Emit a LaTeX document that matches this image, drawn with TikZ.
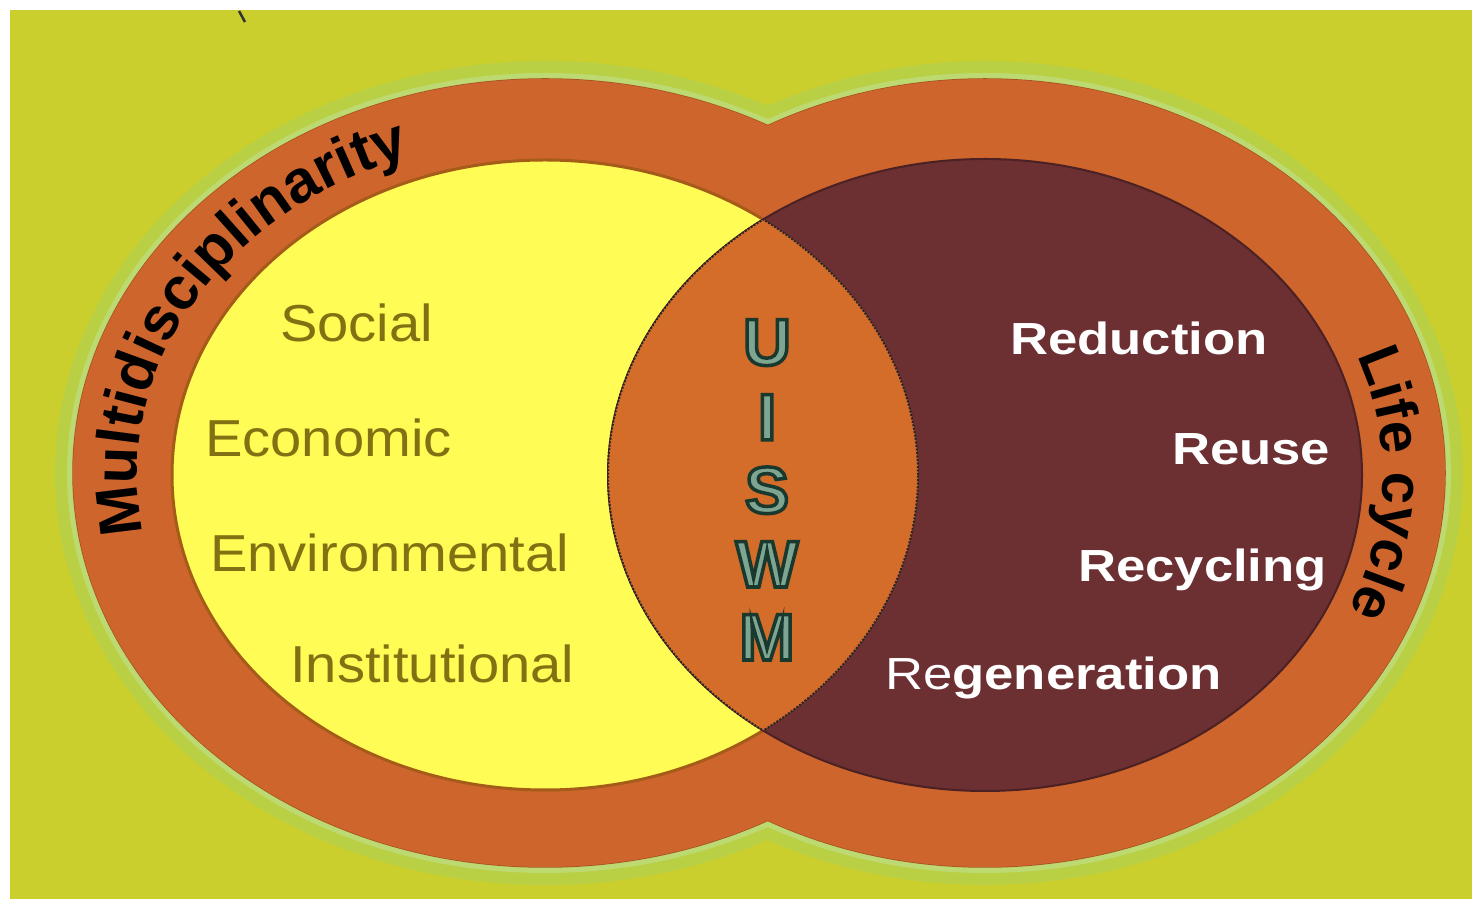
\documentclass[tikz,border=0pt]{standalone}
\usepackage{fontspec}
\setmainfont{Liberation Sans}
\usetikzlibrary{decorations.text,calc}
\definecolor{bgc}{RGB}{203,207,46}
\definecolor{glowc}{RGB}{165,210,95}
\definecolor{ringc}{RGB}{206,101,44}
\definecolor{yelc}{RGB}{255,252,85}
\definecolor{marc}{RGB}{108,47,50}
\definecolor{lensc}{RGB}{212,108,42}
\definecolor{olivec}{RGB}{130,113,18}
\definecolor{edgec}{RGB}{165,92,25}
\definecolor{uswmfill}{RGB}{125,165,145}
\newcommand\outlinedletter[1]{\special{pdf:literal direct 2 Tr 3.5 w 0.10 0.22 0.18 RG}#1\special{pdf:literal direct 0 Tr}}
\begin{document}
\begin{tikzpicture}[x=1pt,y=1pt,
  lefttext/.style={anchor=base west, inner sep=0pt, text=olivec, font=\fontsize{52}{52}\selectfont, xscale=1.08},
  righttext/.style={anchor=base west, inner sep=0pt, text=white, font=\fontsize{45}{45}\selectfont\bfseries, xscale=1.17},
  uswm/.style={anchor=base, inner sep=0pt, text=uswmfill, font=\fontsize{66}{66}\selectfont\bfseries},
  yell/.style={x radius=373, y radius=315},
  marl/.style={x radius=377, y radius=316},
  outl/.style={x radius=472, y radius=394},
  outr/.style={x radius=460, y radius=394},
  lensedge/.style={draw=black!85, line width=2, dash pattern=on 2pt off 1.5pt},
]
\useasboundingbox (0,0) rectangle (1472,899);
\fill[white] (0,0) rectangle (1472,899);
\fill[bgc] (10,0) rectangle (1472,889);
\draw[black!80, line width=2.5] (239,888) -- (245,877);
% centres
\coordinate (cl) at (545,424);
\coordinate (cr) at (985,424);
\coordinate (ol) at (545,426);
\coordinate (or) at (985,426);
% glow and outer ring
\draw[glowc, line width=36, opacity=0.45] (ol) ellipse[outl] (or) ellipse[outr];
\draw[glowc!70!white, line width=12, opacity=0.6] (ol) ellipse[outl] (or) ellipse[outr];
\draw[ringc!80!black, line width=1.5] (ol) ellipse[outl] (or) ellipse[outr];
\fill[ringc] (ol) ellipse[outl] (or) ellipse[outr];
% inner circles
\fill[yelc] (cl) ellipse[yell];
\draw[edgec, line width=3] (cl) ellipse[yell];
\fill[marc] (cr) ellipse[marl];
\draw[marc!70!black, line width=2] (cr) ellipse[marl];
\begin{scope}
  \clip (cl) ellipse[yell];
  \fill[lensc] (cr) ellipse[marl];
  \draw[lensedge] (cr) ellipse[marl];
\end{scope}
\begin{scope}
  \clip (cr) ellipse[marl];
  \draw[lensedge] (cl) ellipse[yell];
\end{scope}
% ring labels
\path[decorate, decoration={text along path, text color=black,
  text={|\fontsize{60}{60}\selectfont\bfseries|Multidisciplinarity}}]
  ($(cl)+(190:408 and 338)$) arc[start angle=190, end angle=90, x radius=408, y radius=338];
\path[decorate, decoration={text along path, text color=black,
  text={|\fontsize{58}{58}\selectfont\bfseries|Life cycle}}]
  ($(cr)+(21:398 and 332)$) arc[start angle=21, end angle=-60, x radius=398, y radius=332];
% left texts
\node[lefttext] (social) at (280,557) {Social};
\node[lefttext] (economic) at (205,442) {Economic};
\node[lefttext] (environmental) at (210,327) {Environmental};
\node[lefttext] (institutional) at (290,216) {Institutional};
% right texts
\node[righttext] (reduction) at (1010,544) {Reduction};
\node[righttext] (reuse) at (1172,434) {Reuse};
\node[righttext] (recycling) at (1078,317) {Recycling};
\node[righttext] (regeneration) at (885,209) {{\mdseries Re}generation};
% UISWM
\node[uswm] (lu) at (767,534) {\outlinedletter{U}};
\node[uswm] (li) at (767,459) {\outlinedletter{I}};
\node[uswm] (ls) at (767,386) {\outlinedletter{S}};
\node[uswm] (lw) at (767,312) {\outlinedletter{W}};
\node[uswm] (lm) at (767,239) {\outlinedletter{M}};
\end{tikzpicture}
\end{document}
